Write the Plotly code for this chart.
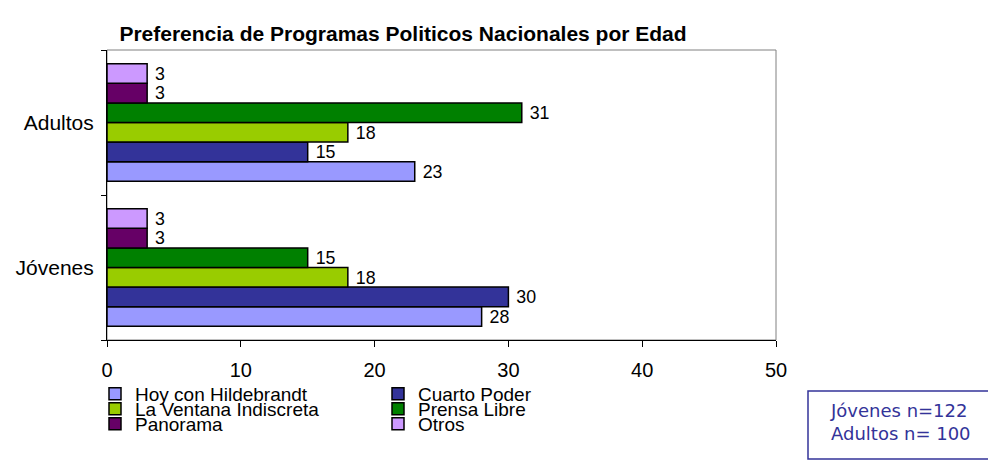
import plotly.graph_objects as go

categories = ["Jóvenes", "Adultos"]
series_names = ["Hoy con Hildebrandt", "Cuarto Poder", "La Ventana Indiscreta",
                "Prensa Libre", "Panorama", "Otros"]
hoy_con_hildebrandt = [28, 23]
cuarto_poder = [30, 15]
la_ventana_indiscreta = [18, 18]
prensa_libre = [15, 31]
panorama = [3, 3]
otros = [3, 3]
series_values = [hoy_con_hildebrandt, cuarto_poder, la_ventana_indiscreta,
                 prensa_libre, panorama, otros]
colors = ["#9999FF", "#333399", "#99CC00", "#008000", "#660066", "#CC99FF"]
# legend laid out as three rows of two entries, like the original
legend_ids = ["legend", "legend", "legend2", "legend2", "legend3", "legend3"]
x_ticks = [0, 10, 20, 30, 40, 50]

# the page puts the figure 8px from the top-left corner of the window
OFF = 8
WIN_W, WIN_H = 996, 465
W, H = WIN_W - OFF, WIN_H - OFF
ML, MR, MT, MB = 107 - OFF, WIN_W - 776, 50 - OFF, WIN_H - 340
PW, PH = W - ML - MR, H - MT - MB

FONT = "Liberation Sans, Arial, sans-serif"

fig = go.Figure()
for name, vals, col, lg in zip(series_names, series_values, colors, legend_ids):
    fig.add_trace(go.Bar(
        y=categories, x=vals, name=name, orientation="h",
        marker=dict(color=col, line=dict(color="black", width=1.5)),
        texttemplate="\u00a0%{x}", textposition="outside",
        textfont=dict(family=FONT, size=20, color="black"),
        cliponaxis=False, legend=lg,
    ))


def cx(p):
    return (p - OFF) / W


def cy(p):
    return 1 - (p - OFF) / H


def px_x(p):
    return (p - OFF - ML) / PW


def px_y(p):
    return (H - MB - (p - OFF)) / PH


legend_font = dict(family=FONT, size=19, color="black")
row_y = [394, 409, 424]


def legend_row(y):
    return dict(xref="container", yref="container", x=cx(95), y=cy(y),
                xanchor="left", yanchor="middle", orientation="h",
                font=legend_font, bgcolor="rgba(0,0,0,0)",
                entrywidth=238, entrywidthmode="pixels", itemwidth=30)


fig.update_layout(
    width=W, height=H,
    margin=dict(l=ML, r=MR, t=MT, b=MB, autoexpand=False),
    paper_bgcolor="white", plot_bgcolor="white",
    barmode="group", bargap=0.19, bargroupgap=0,
    title=dict(text="<b>Preferencia de Programas Politicos Nacionales por Edad</b>",
               font=dict(family=FONT, size=21, color="black"),
               x=cx(403), xanchor="center", xref="container",
               y=cy(34), yanchor="middle", yref="container"),
    xaxis=dict(range=[0, 50], tickvals=x_ticks, ticks="outside", ticklen=6,
               tickcolor="black", showline=True, linecolor="black", linewidth=1,
               showgrid=False, zeroline=False, ticklabelstandoff=6,
               automargin=False,
               tickfont=dict(family=FONT, size=20, color="black")),
    yaxis=dict(categoryorder="array", categoryarray=categories,
               ticks="outside", ticklen=5, tickcolor="black", tickson="boundaries",
               showline=True, linecolor="black", linewidth=1, showgrid=False,
               ticklabelstandoff=8, automargin=False,
               tickfont=dict(family=FONT, size=21, color="black")),
    legend=legend_row(row_y[0]),
    legend2=legend_row(row_y[1]),
    legend3=legend_row(row_y[2]),
    showlegend=True,
)

# plot area border (grey, top & right)
fig.add_shape(type="rect", xref="x domain", yref="y domain", x0=0, x1=1, y0=0, y1=1,
              line=dict(color="#808080", width=1), layer="below")

# sample size box
fig.add_shape(type="rect", xref="paper", yref="paper",
              x0=px_x(808), x1=px_x(1000), y0=px_y(459), y1=px_y(391),
              line=dict(color="#333399", width=1.5), fillcolor="white")
fig.add_annotation(xref="paper", yref="paper", x=px_x(829), y=px_y(422),
                   xanchor="left", yanchor="middle", align="left", showarrow=False,
                   borderpad=0,
                   text="Jóvenes n=122<br>Adultos n= 100",
                   font=dict(family="DejaVu Sans, Verdana", size=18, color="#333399"))

fig.write_html("out.html")
